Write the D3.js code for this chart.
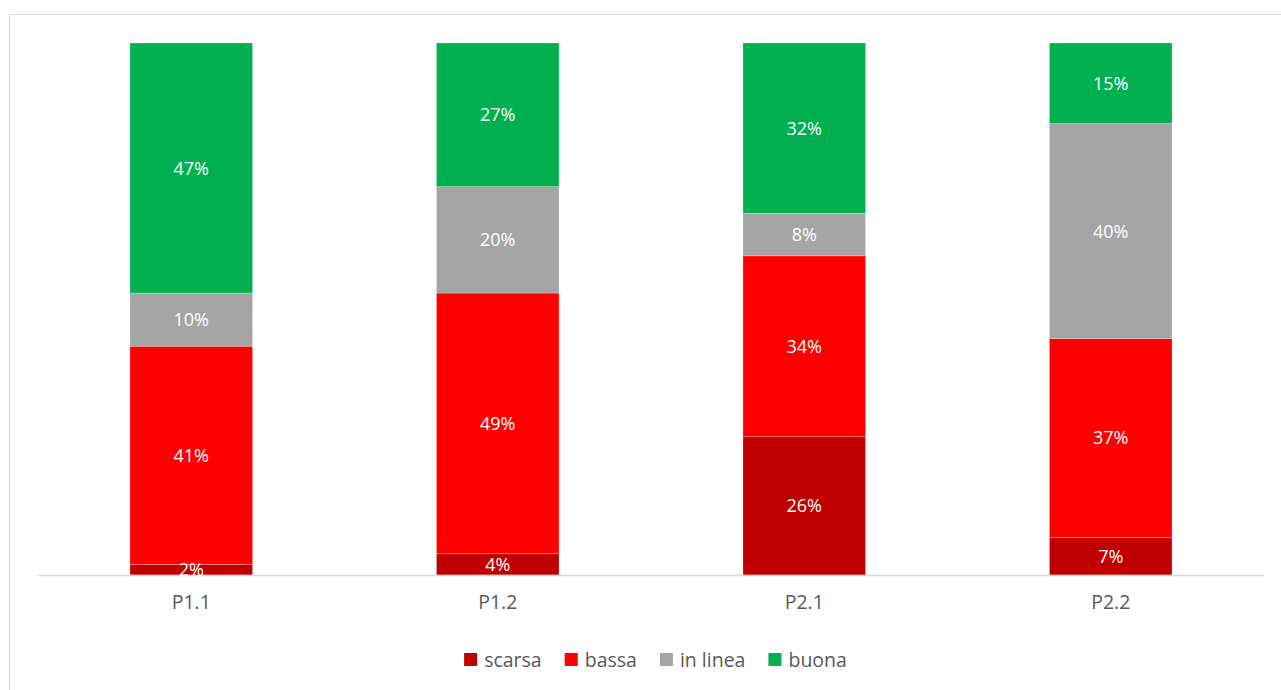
<!DOCTYPE html>
<html>
<head>
<meta charset="utf-8">
<script src="https://cdn.jsdelivr.net/npm/d3@7"></script>
<style>
  html, body { margin: 0; padding: 0; background: #fff; }
  svg { display: block; font-family: "Open Sans", "Liberation Sans", sans-serif; }
</style>
</head>
<body>
<svg id="chart" width="1281" height="690"></svg>
<script>
// Categories (questions) and the share of each rating, in percent
const categories = ["P1.1", "P1.2", "P2.1", "P2.2"];
const seriesNames = ["scarsa", "bassa", "in linea", "buona"];
const scarsa  = [2, 4, 26, 7];
const bassa   = [41, 49, 34, 37];
const inLinea = [10, 20, 8, 40];
const buona   = [47, 27, 32, 15];
const seriesColors = ["#C00000", "#FF0000", "#A5A5A5", "#00B050"];

const seriesValues = [scarsa, bassa, inLinea, buona];
const rows = categories.map((c, i) => {
  const r = { cat: c };
  seriesNames.forEach((s, j) => r[s] = seriesValues[j][i]);
  return r;
});

const svg = d3.select("#chart");
const W = 1281, H = 690;
const plot = { left: 38, right: 1264, top: 43, bottom: 575 };

// Chart frame
svg.append("rect")
  .attr("x", 9.5).attr("y", 14.5)
  .attr("width", W).attr("height", H)
  .attr("fill", "#fff").attr("stroke", "#d9d9d9").attr("stroke-width", 1);

const x = d3.scaleBand()
  .domain(categories)
  .range([plot.left, plot.right])
  .paddingInner(0.6).paddingOuter(0.3);

const y = d3.scaleLinear().domain([0, 1]).range([plot.bottom, plot.top]);

const stack = d3.stack().keys(seriesNames).offset(d3.stackOffsetExpand);
const layers = stack(rows);

const color = d3.scaleOrdinal().domain(seriesNames).range(seriesColors);

const g = svg.append("g");
layers.forEach(layer => {
  const lg = g.append("g");
  lg.selectAll("rect")
    .data(layer)
    .join("rect")
    .attr("x", d => x(d.data.cat))
    .attr("width", x.bandwidth())
    .attr("y", d => y(d[1]))
    .attr("height", d => y(d[0]) - y(d[1]))
    .attr("fill", color(layer.key))
    .attr("stroke", "rgba(255,255,255,0.3)")
    .attr("stroke-width", 0.8);
});

// Category axis
const xAxis = svg.append("g")
  .attr("transform", `translate(0,${plot.bottom})`)
  .call(d3.axisBottom(x).tickSize(0).tickPadding(20));
xAxis.select(".domain")
  .attr("d", `M${plot.left},0.5H${plot.right}`)
  .attr("stroke", "#d9d9d9").attr("stroke-width", 1.5);
xAxis.selectAll("text")
  .attr("font-family", "'Open Sans', 'Liberation Sans', sans-serif")
  .attr("font-size", 19.5)
  .attr("fill", "#595959");

// Value labels
layers.forEach(layer => {
  svg.append("g").selectAll("text")
    .data(layer)
    .join("text")
    .attr("x", d => x(d.data.cat) + x.bandwidth() / 2)
    .attr("y", d => (y(d[0]) + y(d[1])) / 2)
    .attr("dy", "0.36em")
    .attr("text-anchor", "middle")
    .attr("font-size", 18)
    .attr("fill", "#fff")
    .text(d => d.data[layer.key] + "%");
});

// Legend
const legend = svg.append("g");
const items = legend.selectAll("g")
  .data(seriesNames)
  .join("g");
items.append("rect")
  .attr("width", 13).attr("height", 13)
  .attr("y", -7)
  .attr("fill", d => color(d));
items.append("text")
  .attr("x", 20)
  .attr("dy", "0.36em")
  .attr("font-size", 19.5)
  .attr("fill", "#595959")
  .text(d => d);

let cursor = 0;
items.each(function () {
  const t = d3.select(this).select("text").node().getComputedTextLength();
  d3.select(this).attr("transform", `translate(${cursor},0)`);
  cursor += 20 + t + 23;
});
const legendWidth = cursor - 23;
legend.attr("transform", `translate(${655.5 - legendWidth / 2},660)`);
</script>
</body>
</html>
